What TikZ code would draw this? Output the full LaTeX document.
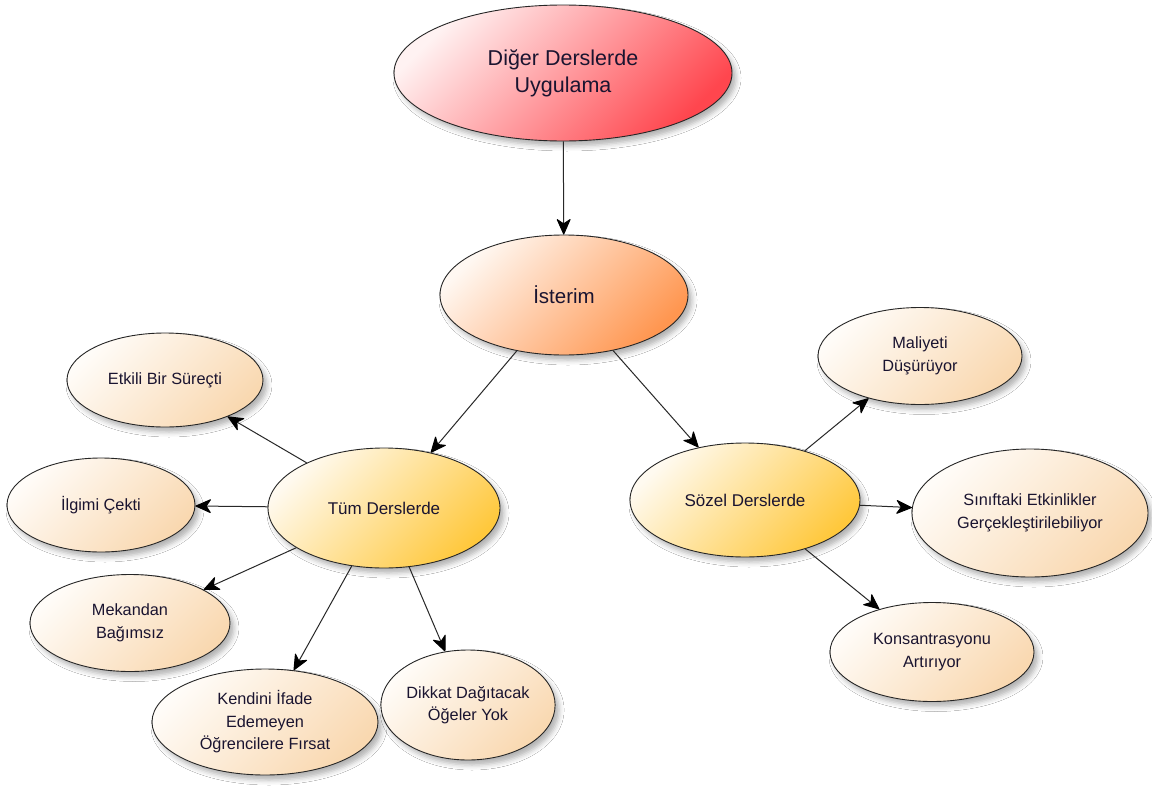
\documentclass[tikz,border=0pt]{standalone}
\usepackage{fontspec}
\setmainfont{Liberation Sans}
\usetikzlibrary{shapes.geometric,arrows.meta,shadows.blur,backgrounds}

\definecolor{txt}{RGB}{26,20,48}
\definecolor{redA}{RGB}{255,242,242}
\definecolor{redB}{RGB}{255,70,78}
\definecolor{oraA}{RGB}{255,248,242}
\definecolor{oraB}{RGB}{255,150,80}
\definecolor{golA}{RGB}{255,250,240}
\definecolor{golB}{RGB}{255,200,60}
\definecolor{leafA}{RGB}{255,252,248}
\definecolor{leafB}{RGB}{249,216,176}
\definecolor{lineC}{RGB}{40,40,40}

\tikzset{
  bubble/.style={ellipse, draw=black!85, line width=0.9pt, inner sep=0pt,
    align=center, text=txt,
    blur shadow={shadow xshift=4pt, shadow yshift=-5pt,
                 shadow blur radius=5pt, shadow opacity=30}},
  topnode/.style={bubble, top color=redA, bottom color=redB, shading angle=45,
    font=\fontsize{21.5}{27}\selectfont},
  midnode/.style={bubble, top color=oraA, bottom color=oraB, shading angle=45,
    font=\fontsize{20.5}{25}\selectfont},
  subnode/.style={bubble, top color=golA, bottom color=golB, shading angle=45,
    font=\fontsize{17}{22}\selectfont},
  leaf/.style={bubble, top color=leafA, bottom color=leafB, shading angle=45,
    font=\fontsize{16.3}{22.5}\selectfont},
  link/.style={draw=lineC, line width=1pt,
    -{Stealth[length=17pt,width=15pt,inset=5pt,round,color=black]}},
  ghost/.style={draw=black!8, line width=1pt,
    -{Stealth[length=17pt,width=15pt,inset=5pt,round,color=black!8]},
    transform canvas={xshift=12pt,yshift=-12pt}}
}

\begin{document}
\begin{tikzpicture}[x=1pt,y=-1pt]
\useasboundingbox[fill=white] (0,0) rectangle (1152,790);

% main chain
\node[topnode, minimum width=338pt, minimum height=136pt] (diger) at (563,73)
  {Diğer Derslerde\\Uygulama};
\node[midnode, minimum width=248pt, minimum height=120pt] (isterim) at (564,295)
  {İsterim};

% second level
\node[subnode, minimum width=232pt, minimum height=120pt] (tum) at (384,508)
  {Tüm Derslerde};
\node[subnode, minimum width=230pt, minimum height=114pt] (sozel) at (745,500)
  {Sözel Derslerde};

% left branch
\node[leaf, minimum width=196pt, minimum height=94pt] (etkili) at (165,380)
  {Etkili Bir Süreçti};
\node[leaf, minimum width=188pt, minimum height=94pt] (ilgimi) at (101,505)
  {İlgimi Çekti};
\node[leaf, minimum width=200pt, minimum height=97pt] (mekan) at (130,623)
  {Mekandan\\Bağımsız};
\node[leaf, minimum width=226pt, minimum height=106pt] (kendini) at (265,722)
  {Kendini İfade\\Edemeyen\\Öğrencilere Fırsat};
\node[leaf, minimum width=172pt, minimum height=110pt] (dikkat) at (468,705)
  {Dikkat Dağıtacak\\Öğeler Yok};

% right branch
\node[leaf, minimum width=204pt, minimum height=97pt] (maliyet) at (920,356)
  {Maliyeti\\Düşürüyor};
\node[leaf, minimum width=236pt, minimum height=128pt] (sinif) at (1030,513)
  {Sınıftaki Etkinlikler\\Gerçekleştirilebiliyor};
\node[leaf, minimum width=204pt, minimum height=99pt] (konsan) at (932,652)
  {Konsantrasyonu\\Artırıyor};

% faint connector shadows
\begin{pgfonlayer}{background}
  \foreach \a/\b in {tum/etkili, tum/ilgimi, tum/mekan, tum/kendini, tum/dikkat,
                     isterim/tum, isterim/sozel, sozel/maliyet, sozel/sinif, sozel/konsan}
    \draw[ghost] (\a) -- (\b);
\end{pgfonlayer}

% connectors
\draw[link] (diger) -- (isterim);
\draw[link] (isterim) -- (tum);
\draw[link] (isterim) -- (sozel);
\draw[link] (tum) -- (etkili);
\draw[link] (tum) -- (ilgimi);
\draw[link] (tum) -- (mekan);
\draw[link] (tum) -- (kendini);
\draw[link] (tum) -- (dikkat);
\draw[link] (sozel) -- (maliyet);
\draw[link] (sozel) -- (sinif);
\draw[link] (sozel) -- (konsan);
\end{tikzpicture}
\end{document}
